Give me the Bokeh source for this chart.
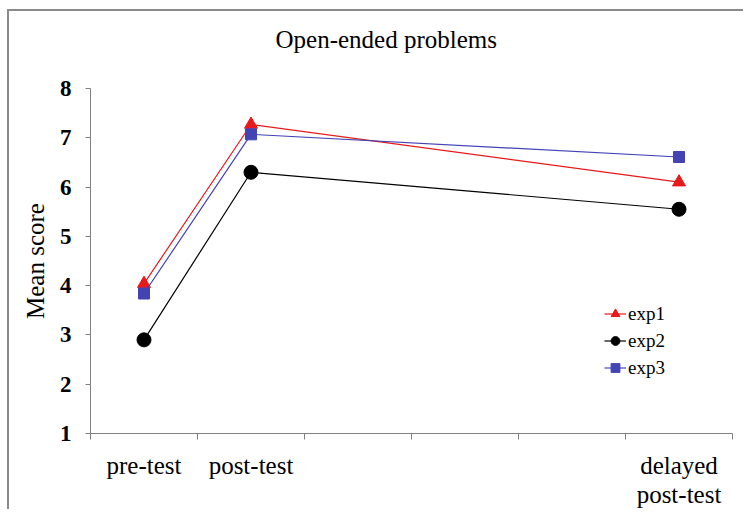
from bokeh.plotting import figure
from bokeh.models import FixedTicker, Legend, LegendItem, Range1d, Title
from bokeh.embed import file_html
from bokeh.resources import INLINE

# ---- data ----
title_text = "Open-ended problems"
stages = ["pre-test", "post-test", "delayed\npost-test"]
stage_slot = [0, 1, 5]          # slot index on a 6-slot axis
n_slots = 6
exp1 = [4.04, 7.27, 6.10]
exp2 = [2.90, 6.30, 5.55]
exp3 = [3.84, 7.07, 6.61]
y_ticks = [1, 2, 3, 4, 5, 6, 7, 8]

FONT = "Liberation Serif"
xs = [s + 0.5 for s in stage_slot]

p = figure(width=736, height=500, output_backend="svg", toolbar_location=None,
           x_range=Range1d(0, n_slots), y_range=Range1d(1, 8),
           min_border_left=81, min_border_right=13, min_border_top=77, min_border_bottom=72)
p.margin = (9, 0, 0, 7)
p.styles = {"border-top": "2px solid #8a8a8a", "border-left": "2px solid #8a8a8a"}

p.title.text = title_text
p.title.text_font = FONT
p.title.text_font_size = "25px"
p.title.text_font_style = "normal"
p.title.text_color = "black"
p.title.align = "left"
p.title.offset = 185
p.title.standoff = 0

# empty spacer panel between the title and the plot area
p.add_layout(Title(text=" ", text_font_size="1px", standoff=33), "above")

p.xgrid.visible = False
p.ygrid.visible = False
p.outline_line_color = None

# x axis
p.xaxis.ticker = FixedTicker(ticks=xs, minor_ticks=list(range(n_slots + 1)))
p.xaxis.major_label_overrides = {x: s for x, s in zip(xs, stages)}
p.xaxis.major_tick_out = 0
p.xaxis.major_tick_in = 0
p.xaxis.minor_tick_out = 6
p.xaxis.minor_tick_in = 0
p.xaxis.minor_tick_line_color = "#808080"
p.xaxis.axis_line_color = "#808080"
p.xaxis.major_label_text_font = FONT
p.xaxis.major_label_text_font_size = "25px"
p.xaxis.major_label_text_color = "black"
p.xaxis.major_label_text_line_height = 1.1
p.xaxis.major_label_standoff = 12

# y axis
p.yaxis.ticker = FixedTicker(ticks=y_ticks)
p.yaxis.minor_tick_line_color = None
p.yaxis.major_tick_out = 5
p.yaxis.major_tick_in = 0
p.yaxis.major_tick_line_color = "#808080"
p.yaxis.axis_line_color = "#808080"
p.yaxis.major_label_text_font = FONT
p.yaxis.major_label_text_font_size = "23px"
p.yaxis.major_label_text_font_style = "bold"
p.yaxis.major_label_text_color = "black"
p.yaxis.major_label_standoff = 14
p.yaxis.axis_label = "Mean score"
p.yaxis.axis_label_text_font = FONT
p.yaxis.axis_label_text_font_size = "25px"
p.yaxis.axis_label_text_font_style = "normal"
p.yaxis.axis_label_text_color = "black"
p.yaxis.axis_label_standoff = 8

RED = "#e8191b"
BLUE = "#4343b4"

l1 = p.line(xs, exp1, line_color=RED, line_width=1.2)
m1 = p.scatter(xs, exp1, marker="triangle", size=13, fill_color=RED, line_color=RED)
l2 = p.line(xs, exp2, line_color="black", line_width=1.2)
m2 = p.scatter(xs, exp2, marker="circle", size=14, fill_color="black", line_color="black")
l3 = p.line(xs, exp3, line_color=BLUE, line_width=1.2)
m3 = p.scatter(xs, exp3, marker="square", size=11, fill_color=BLUE, line_color=BLUE)

legend = Legend(items=[
    LegendItem(label="exp1", renderers=[l1, m1]),
    LegendItem(label="exp2", renderers=[l2, m2]),
    LegendItem(label="exp3", renderers=[l3, m3]),
], location=(514, 52))
legend.background_fill_alpha = 0
legend.border_line_color = None
legend.label_text_font = FONT
legend.label_text_font_size = "19px"
legend.label_text_color = "black"
legend.glyph_width = 22
legend.glyph_height = 27
legend.label_height = 27
legend.spacing = 0
legend.padding = 0
legend.margin = 0
legend.label_standoff = 2
p.add_layout(legend)

open("out.html", "w").write(file_html(p, INLINE))
